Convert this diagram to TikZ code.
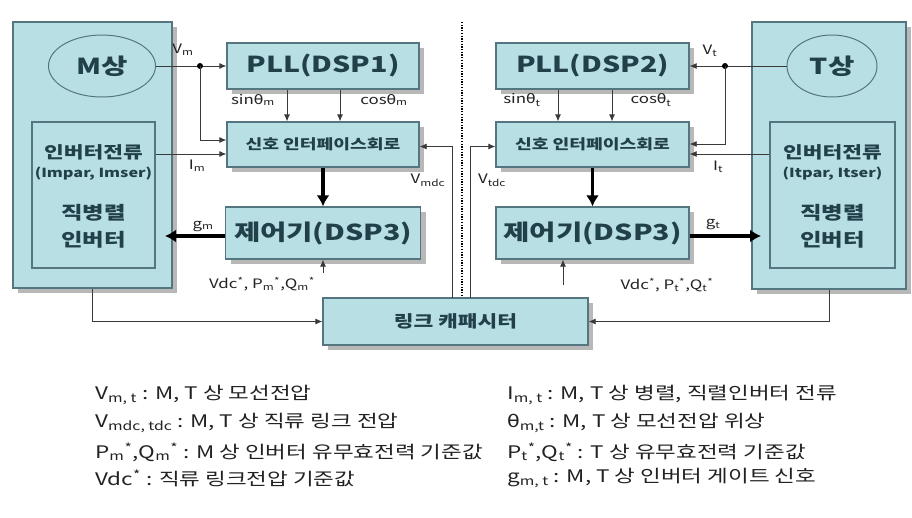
\documentclass[tikz,border=0pt]{standalone}
\usepackage{fontspec}
\setmainfont{Noto Sans CJK KR}[FakeStretch=1.3]
\newfontfamily\gr{DejaVu Sans}[FakeStretch=1.2]
\usetikzlibrary{arrows.meta,shapes.geometric,shadows}
\definecolor{boxfill}{HTML}{B8E0E4}
\definecolor{boxline}{HTML}{557580}
\definecolor{shadowc}{HTML}{B8B8B8}
\definecolor{txt}{HTML}{22404A}
\definecolor{linec}{HTML}{3A3A3A}
\definecolor{labc}{HTML}{222222}
\newcommand{\fs}[1]{\fontsize{#1}{#1}\selectfont}
\begin{document}
\begin{tikzpicture}[x=1pt,y=-1pt,
  blk/.style={draw=boxline, line width=1.3pt, fill=boxfill, text=txt, inner sep=0pt,
    drop shadow={shadow xshift=5pt, shadow yshift=-5pt, fill=shadowc, opacity=1}},
  inb/.style={draw=boxline, line width=1.3pt, fill=boxfill, inner sep=0pt},
  ell/.style={ellipse, draw=boxline, line width=1pt, fill=boxfill, text=txt, inner sep=0pt, font=\fs{22}\bfseries},
  sz/.style 2 args={minimum width=#1pt, minimum height=#2pt},
  btxt/.style={text=txt, inner sep=0pt},
  ln/.style={draw=linec, line width=0.8pt},
  arr/.style={ln, -{Latex[length=7pt,width=6pt]}},
  thk/.style={draw=black, line width=3.2pt, -{Latex[length=11pt,width=13pt]}},
  lab/.style={font=\fs{13}, text=labc, inner sep=1pt},
  leg/.style={font=\fs{17.3}, anchor=west, inner sep=0pt, text=labc},
  dotln/.style={draw=black, line width=1.6pt, dash pattern=on 1.3pt off 1.4pt},
]
\useasboundingbox (0,0) rectangle (912,517);
\fill[white] (0,0) rectangle (912,517);

% ---- M side big block
\node[blk, sz={159}{266}] (Mbig) at (92.5,155) {};
\node[inb, sz={123}{146}] (Min) at (93.5,195) {};
\node[ell, minimum width=107pt, minimum height=62pt] (Mell) at (102,66) {M상};
\node[btxt, font=\fs{16.5}\bfseries] (Mt1) at (93.5,152) {인버터전류};
\node[btxt, font=\fs{12.5}\bfseries] (Mt2) at (93.5,174) {(Impar, Imser)};
\node[btxt, font=\fs{18}\bfseries] (Mt3) at (93.5,213) {직병렬};
\node[btxt, font=\fs{18}\bfseries] (Mt4) at (93.5,240) {인버터};

% ---- T side big block
\node[blk, sz={154}{267}] (Tbig) at (829,155.5) {};
\node[inb, sz={125}{146}] (Tin) at (832.5,195) {};
\node[ell, minimum width=90pt, minimum height=62pt] (Tell) at (832,66) {T상};
\node[btxt, font=\fs{16.5}\bfseries] (Tt1) at (832.5,152) {인버터전류};
\node[btxt, font=\fs{12.5}\bfseries] (Tt2) at (832.5,174) {(Itpar, Itser)};
\node[btxt, font=\fs{18}\bfseries] (Tt3) at (832.5,213) {직병렬};
\node[btxt, font=\fs{18}\bfseries] (Tt4) at (832.5,240) {인버터};

% ---- middle blocks
\node[blk, sz={192}{46}, font=\fs{22}\bfseries] (PLL1) at (323,66) {PLL(DSP1)};
\node[blk, sz={192}{45}, font=\fs{14}\bfseries] (IF1) at (323,144.5) {신호 인터페이스회로};
\node[blk, sz={195}{52}, font=\fs{22}\bfseries] (CT1) at (323,233) {제어기(DSP3)};
\node[blk, sz={193}{46}, font=\fs{22}\bfseries] (PLL2) at (592.5,66) {PLL(DSP2)};
\node[blk, sz={193}{45}, font=\fs{14}\bfseries] (IF2) at (592.5,144.5) {신호 인터페이스회로};
\node[blk, sz={193}{52}, font=\fs{22}\bfseries] (CT2) at (592.5,233) {제어기(DSP3)};
\node[blk, sz={265}{47}, font=\fs{16.5}\bfseries] (LINK) at (455.5,321.5) {링크 캐패시터};

% ---- dotted separator
\coordinate (sepA) at (462,22);
\coordinate (sepB) at (462,296);
\draw[dotln] (sepA) -- (sepB);

% ---- M side connectors
\coordinate (vmdot) at (200,66);
\draw[arr] (Mell.east) -- (PLL1.west);
\fill[black] (vmdot) circle (3pt);
\coordinate (if1a) at ([yshift=4.5pt]IF1.west);
\coordinate (if1b) at ([yshift=-9.5pt]IF1.west);
\draw[arr] (vmdot) |- (if1a);
\draw[arr] (Min.east |- if1b) -- (if1b);
\draw[arr] ([xshift=-36pt]PLL1.south) -- ([xshift=-36pt]IF1.north);
\draw[arr] ([xshift=17pt]PLL1.south) -- ([xshift=17pt]IF1.north);
\draw[thk] (IF1.south) -- (CT1.north);
\coordinate (gmA) at ([yshift=-3pt]CT1.west);
\coordinate (gmB) at (165,236);
\draw[thk] (gmA) -- (gmB);
\coordinate (rfm) at (323,273);
\draw[arr] (rfm) -- (CT1.south);
\draw[arr] (Mbig.south) |- (LINK.west);
\coordinate (vmdcB) at (452,298);
\draw[arr] (vmdcB) |- ([yshift=-2pt]IF1.east);

% ---- T side connectors
\coordinate (vtdot) at (725,66);
\draw[arr] (Tell.west) -- (PLL2.east);
\fill[black] (vtdot) circle (3pt);
\coordinate (if2a) at ([yshift=0.5pt]IF2.east);
\coordinate (if2b) at ([yshift=-9.5pt]IF2.east);
\draw[arr] (vtdot) |- (if2a);
\draw[arr] (Tin.west |- if2b) -- (if2b);
\draw[arr] ([xshift=-34.5pt]PLL2.south) -- ([xshift=-34.5pt]IF2.north);
\draw[arr] ([xshift=19.5pt]PLL2.south) -- ([xshift=19.5pt]IF2.north);
\draw[thk] (IF2.south) -- (CT2.north);
\coordinate (gtA) at ([yshift=-3pt]CT2.east);
\coordinate (gtB) at (761,236);
\draw[thk] (gtA) -- (gtB);
\coordinate (rft) at (563,285);
\draw[arr] (rft) -- (rft |- CT2.south);
\draw[arr] (Tbig.south) |- (LINK.east);
\coordinate (vdcB) at (470,298);
\draw[arr] (vdcB) |- ([yshift=-2pt]IF2.west);

% ---- labels
\node[lab] (lVm) at (183,50) {V\textsubscript{m}};
\node[lab] (lsm) at (253,100) {sin{\gr θ}\textsubscript{m}};
\node[lab] (lcm) at (384,100) {cos{\gr θ}\textsubscript{m}};
\node[lab] (lIm) at (197,166) {I\textsubscript{m}};
\node[lab] (lVmdc) at (428,180) {V\textsubscript{mdc}};
\node[lab] (lgm) at (203,226) {g\textsubscript{m}};
\node[lab] (lrm) at (262,284) {Vdc\textsuperscript{*}, P\textsubscript{m}\textsuperscript{*},Q\textsubscript{m}\textsuperscript{*}};
\node[lab] (lVt) at (710,51) {V\textsubscript{t}};
\node[lab] (lst) at (522,100) {sin{\gr θ}\textsubscript{t}};
\node[lab] (lct) at (651,100) {cos{\gr θ}\textsubscript{t}};
\node[lab] (lIt) at (718,167) {I\textsubscript{t}};
\node[lab] (lVdc) at (492,180) {V\textsubscript{tdc}};
\node[lab] (lgt) at (713,224) {g\textsubscript{t}};
\node[lab] (lrt) at (667,285) {Vdc\textsuperscript{*}, P\textsubscript{t}\textsuperscript{*},Q\textsubscript{t}\textsuperscript{*}};

% ---- legend
\node[leg] (g1) at (95,395) {V\textsubscript{m, t} : M, T 상 모선전압};
\node[leg] (g2) at (95,423) {V\textsubscript{mdc, tdc} : M, T 상 직류 링크 전압};
\node[leg] (g3) at (95,452) {P\textsubscript{m}\textsuperscript{*},Q\textsubscript{m}\textsuperscript{*} : M 상 인버터 유무효전력 기준값};
\node[leg] (g4) at (95,478) {Vdc\textsuperscript{*} : 직류 링크전압 기준값};
\node[leg] (h1) at (507,395) {I\textsubscript{m, t} : M, T 상 병렬, 직렬인버터 전류};
\node[leg] (h2) at (507,423) {{\gr θ}\textsubscript{m,t} : M, T 상 모선전압 위상};
\node[leg] (h3) at (507,452) {P\textsubscript{t}\textsuperscript{*},Q\textsubscript{t}\textsuperscript{*} : T 상 유무효전력 기준값};
\node[leg] (h4) at (507,478) {g\textsubscript{m, t} : M, T 상 인버터 게이트 신호};
\end{tikzpicture}
\end{document}
